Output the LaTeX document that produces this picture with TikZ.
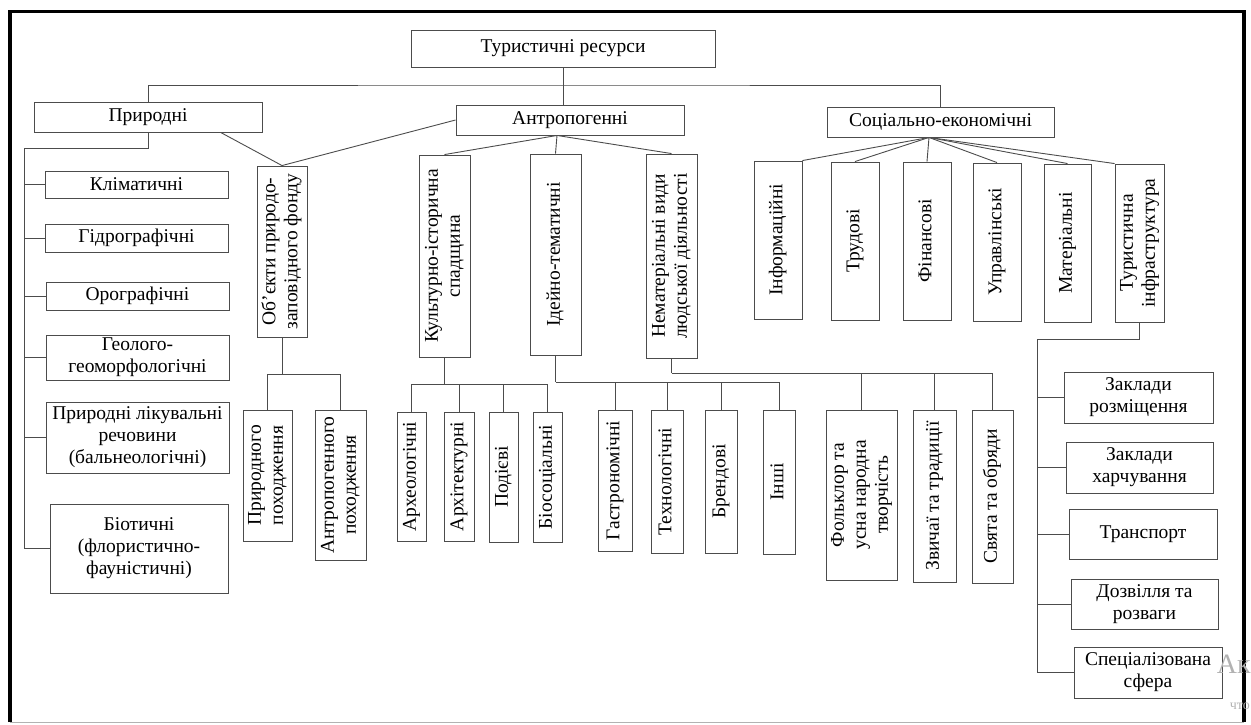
\documentclass[tikz,border=0pt]{standalone}
\usepackage{fontspec}
\setmainfont{Liberation Serif}
\usepackage{graphicx}
\newcommand{\vtxt}[1]{\rotatebox{90}{\begin{tabular}{@{}c@{}}#1\end{tabular}}}
\tikzset{box/.style={draw=black!70, line width=0.9pt, fill=white, align=center, inner sep=1pt,
                     font=\fontsize{19.5}{22}\selectfont},
         sz/.style 2 args={minimum width=#1pt, minimum height=#2pt},
         tie/.style={draw=black!70, line width=0.9pt}}

\begin{document}
\begin{tikzpicture}[x=1pt, y=-1pt]
  \useasboundingbox (0,0) rectangle (1251,724);
  \draw[line width=3.5pt] (10,722) -- (10,11.5) -- (1244,11.5) -- (1244,722);
  \draw[black!30, line width=1pt] (10,722.5) -- (1244,722.5);

  \node[box,sz={304}{37}] (res) at (563,48.5) {Туристичні ресурси};
  \node[box,sz={228}{30}] (pryr) at (148,117) {Природні};
  \node[box,sz={228}{30}] (antr) at (570,120) {Антропогенні};
  \node[box,sz={227}{30}] (soc) at (940.5,122) {Соціально-економічні};

  \node[box,sz={183}{27}] (klim) at (136.5,184.5) {Кліматичні};
  \node[box,sz={183}{28}] (hidr) at (136.5,238) {Гідрографічні};
  \node[box,sz={183}{28}] (orog) at (137.5,296) {Орографічні};
  \node[box,sz={183}{45}] (geol) at (137.5,357.5) {Геолого-\\геоморфологічні};
  \node[box,sz={183}{71}] (likuv) at (137.5,437.5) {Природні лікувальні\\речовини\\(бальнеологічні)};
  \node[box,sz={178}{89}] (biot) at (139,548.5) {Біотичні\\(флористично-\\фауністичні)};

  \node[box,sz={50}{171}] (pzf) at (282,251.5) {\vtxt{Об’єкти природо-\\заповідного фонду}};
  \node[box,sz={49}{131}] (pryrp) at (267.5,475.5) {\vtxt{Природного\\походження}};
  \node[box,sz={51}{150}] (antrp) at (340.5,485) {\vtxt{Антропогенного\\походження}};

  \node[box,sz={51}{202}] (kult) at (444.5,256) {\vtxt{Культурно-історична\\спадщина}};
  \node[box,sz={51}{201}] (idei) at (555.5,254.5) {\vtxt{Ідейно-тематичні}};
  \node[box,sz={51}{204}] (nemat) at (671.5,256) {\vtxt{Нематеріальні види\\людської діяльності}};

  \node[box,sz={29}{129}] (arch) at (411.5,476.5) {\vtxt{Археологічні}};
  \node[box,sz={30}{129}] (arhi) at (459,476.5) {\vtxt{Архітектурні}};
  \node[box,sz={29}{130}] (podi) at (503.5,477) {\vtxt{Подієві}};
  \node[box,sz={29}{130}] (bios) at (547.5,477) {\vtxt{Біосоціальні}};

  \node[box,sz={34}{141}] (gastr) at (615,480.5) {\vtxt{Гастрономічні}};
  \node[box,sz={32}{143}] (tech) at (667,481.5) {\vtxt{Технологічні}};
  \node[box,sz={32}{143}] (brend) at (721,481.5) {\vtxt{Брендові}};
  \node[box,sz={32}{144}] (inshi) at (779,482) {\vtxt{Інші}};

  \node[box,sz={71}{170}] (folk) at (861.5,495) {\vtxt{Фольклор та\\усна народна\\творчість}};
  \node[box,sz={43}{172}] (zvych) at (934.5,496) {\vtxt{Звичаї та традиції}};
  \node[box,sz={41}{173}] (svyata) at (992.5,496.5) {\vtxt{Свята та обряди}};

  \node[box,sz={48}{158}] (info) at (778,240) {\vtxt{Інформаційні}};
  \node[box,sz={48}{158}] (trud) at (855,241) {\vtxt{Трудові}};
  \node[box,sz={48}{158}] (fin) at (927,241) {\vtxt{Фінансові}};
  \node[box,sz={48}{158}] (upr) at (997,242) {\vtxt{Управлінські}};
  \node[box,sz={47}{158}] (mat) at (1067.5,243) {\vtxt{Матеріальні}};
  \node[box,sz={49}{158}] (tur) at (1139.5,243) {\vtxt{Туристична\\інфраструктура}};

  \node[box,sz={149}{51}] (rozm) at (1138.5,397.5) {Заклади\\розміщення};
  \node[box,sz={147}{51}] (harch) at (1139.5,467.5) {Заклади\\харчування};
  \node[box,sz={148}{50}] (trans) at (1143,534) {Транспорт};
  \node[box,sz={147}{50}] (dozv) at (1144.5,604) {Дозвілля та\\розваги};
  \node[box,sz={148}{51}] (spec) at (1148,672.5) {Спеціалізована\\сфера};

  \coordinate (bar) at (563,85);
  \draw[tie] (pryr.north) |- (bar) -| (soc.north);
  \draw[tie] (res.south) -- (res.south |- antr.north);
  \draw[tie] (pryr.-12) -- (pzf.north) -- (antr.west);

  \coordinate (aj) at ([xshift=-13pt]antr.south);
  \draw[tie] (kult.north) -- (aj) -- (nemat.north);
  \draw[tie] (aj) -- (idei.north);

  \coordinate (sj) at ([xshift=-11.5pt]soc.south);
  \foreach \n/\a in {info/north east,trud/north,fin/north,upr/north,mat/north,tur/north west}
    \draw[tie] (sj) -- (\n.\a);

  \coordinate (pl) at (24,148);
  \draw[tie] (pryr.south) |- (pl) |- (biot.west);
  \foreach \n in {klim,hidr,orog,geol,likuv}
    \draw[tie] (pl |- \n.west) -- (\n.west);

  \draw[tie] (pzf.south) -- ++(0,37) coordinate (pj);
  \draw[tie] (pryrp.north) |- (pj) -| (antrp.north);

  \draw[tie] (kult.south) -- ++(0,27) coordinate (kj);
  \draw[tie] (arch.north) |- (kj) -| (bios.north);
  \foreach \n in {arhi,podi}
    \draw[tie] (\n.north) -- (\n.north |- kj);

  \draw[tie] (idei.south) -- ++(0,27) coordinate (ij);
  \draw[tie] (ij) -| (inshi.north);
  \foreach \n in {gastr,tech,brend}
    \draw[tie] (\n.north) -- (\n.north |- ij);

  \draw[tie] (nemat.south) -- ++(0,15) coordinate (nj);
  \draw[tie] (nj) -| (svyata.north);
  \foreach \n in {folk,zvych}
    \draw[tie] (\n.north) -- (\n.north |- nj);

  \coordinate (tl) at (1037,339);
  \draw[tie] (tur.south) |- (tl) |- (spec.west);
  \foreach \n in {rozm,harch,trans,dozv}
    \draw[tie] (tl |- \n.west) -- (\n.west);

  \node[anchor=east, inner sep=0pt, text=black!30, font=\fontsize{28}{28}\selectfont] (wm1) at (1251,664) {Ак};
  \node[anchor=east, inner sep=0pt, text=black!30, font=\fontsize{14}{14}\selectfont] (wm2) at (1250,706) {что};
\end{tikzpicture}
\end{document}
